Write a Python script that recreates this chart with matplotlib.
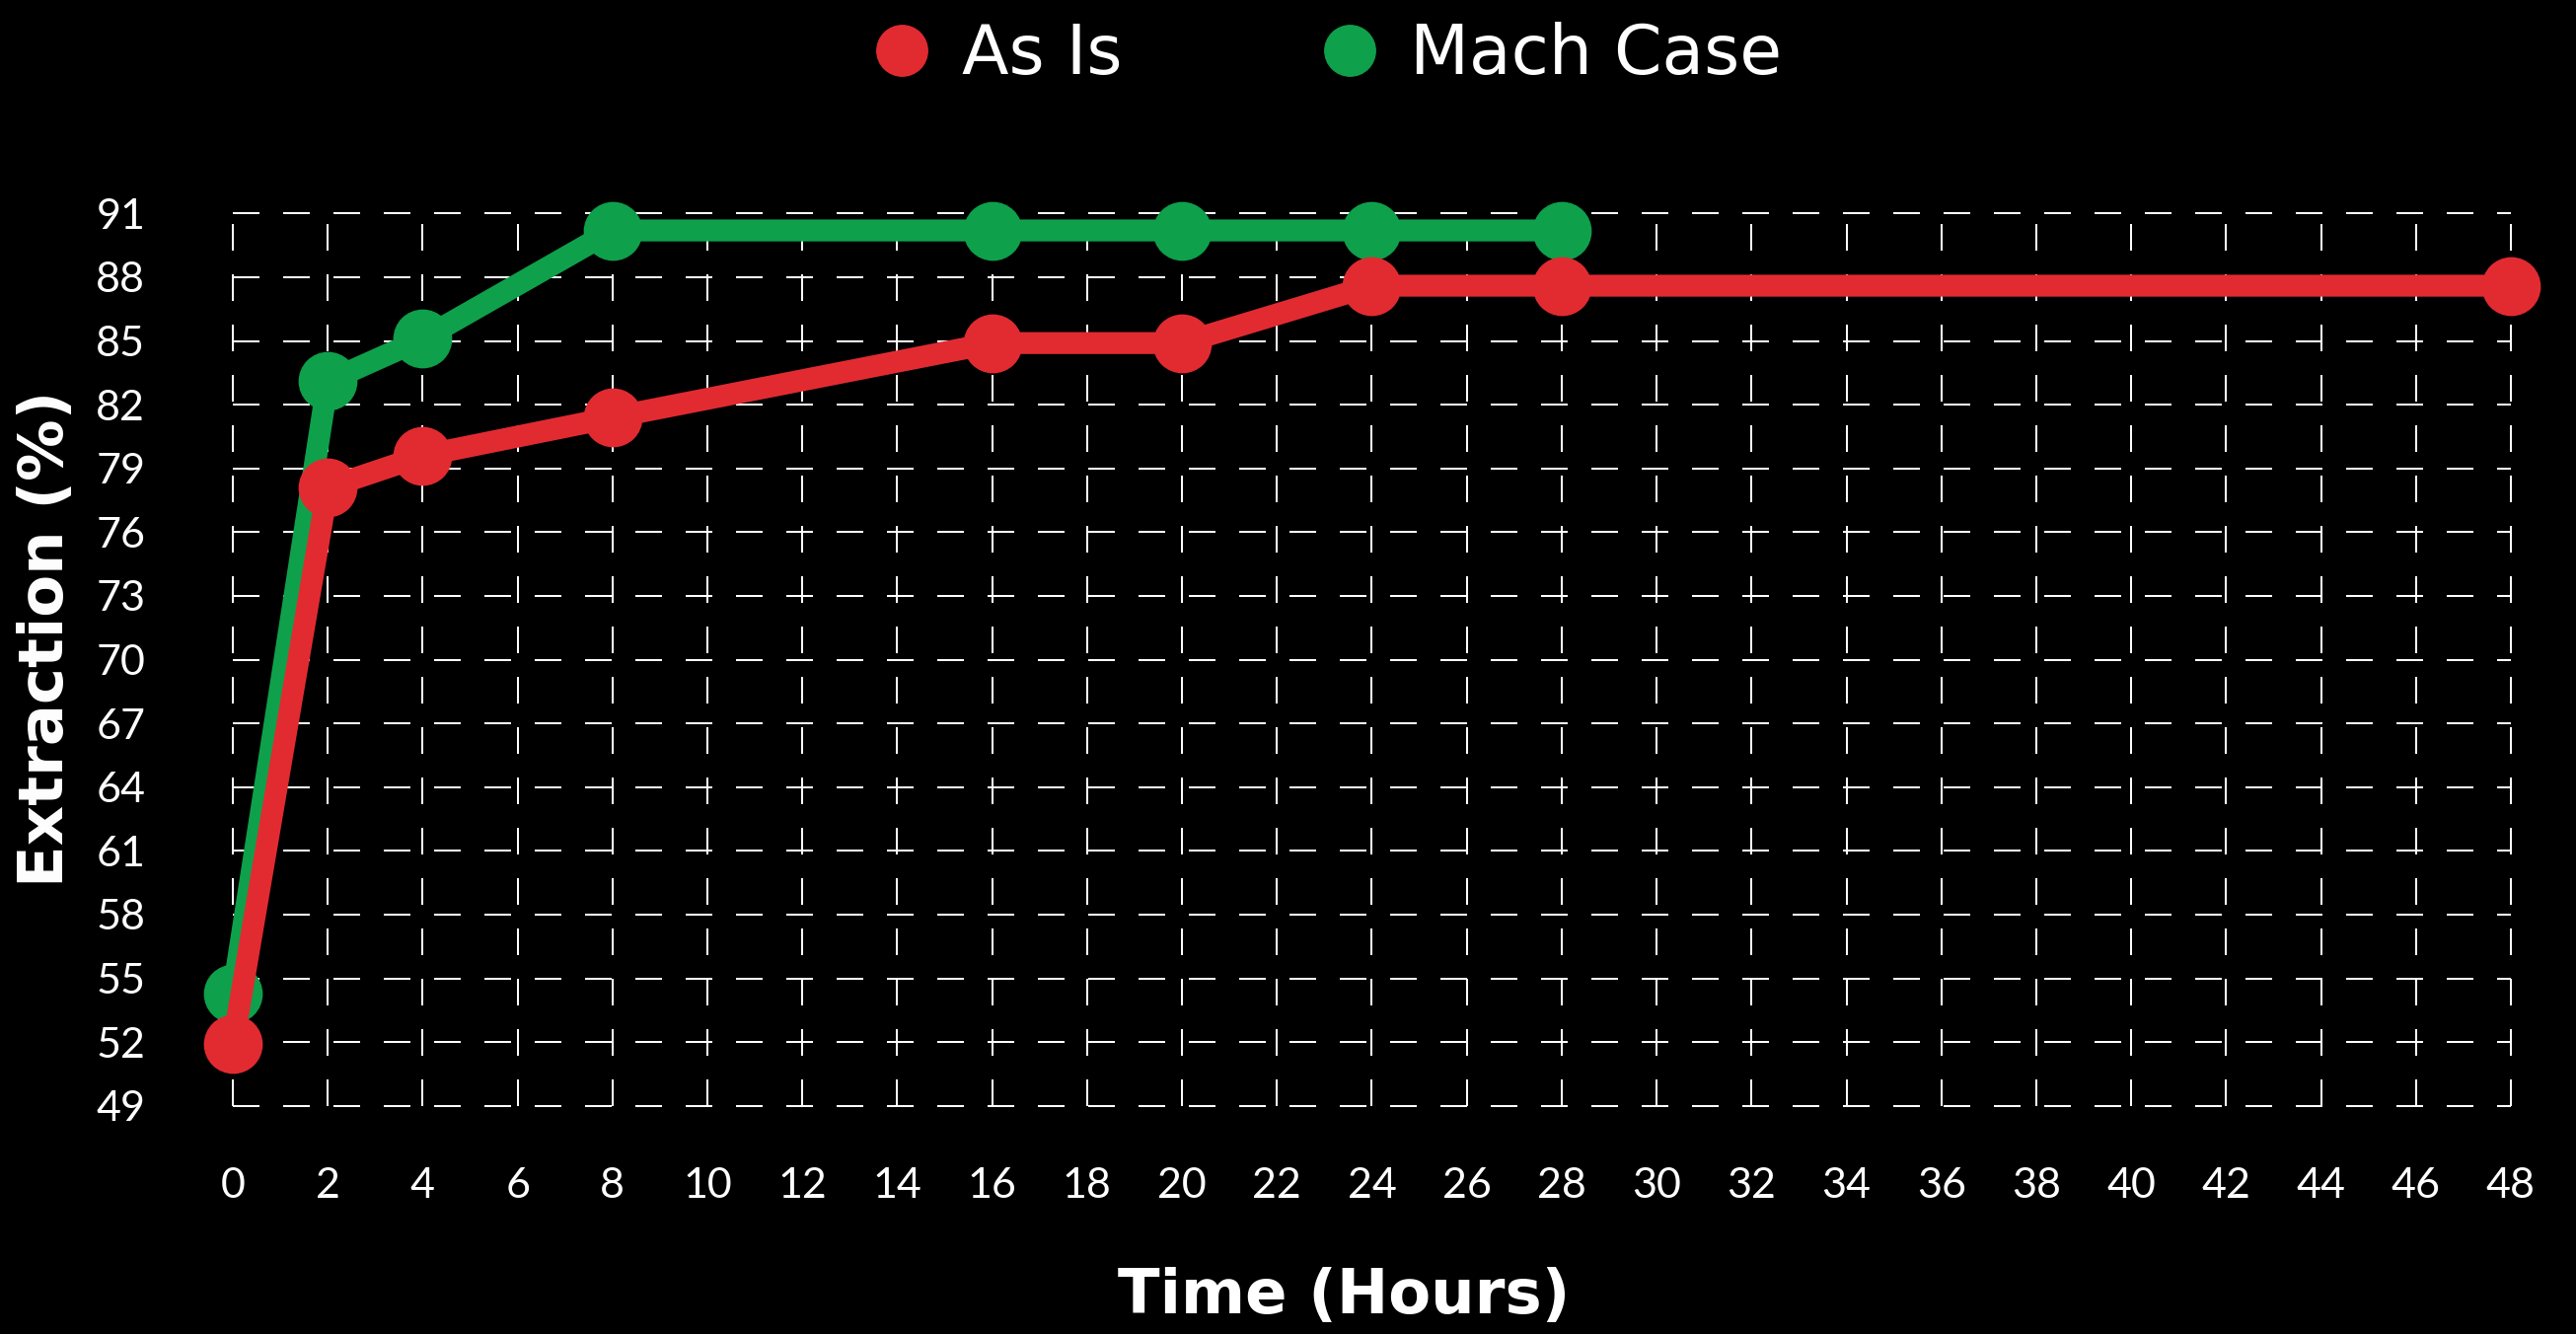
import numpy as np
import matplotlib.pyplot as plt
from matplotlib.lines import Line2D

hours_as_is = [0, 2, 4, 8, 16, 20, 24, 28, 48]
extraction_as_is = [51.9, 78.1, 79.6, 81.4, 84.9, 84.9, 87.6, 87.6, 87.6]

hours_mach = [0, 2, 4, 8, 16, 20, 24, 28]
extraction_mach = [54.3, 83.1, 85.1, 90.2, 90.2, 90.2, 90.2, 90.2]

x_ticks = list(range(0, 50, 2))
y_ticks = list(range(49, 92, 3))

red = '#E22B31'
green = '#0FA04B'

plt.rcParams['font.family'] = ['Lato', 'DejaVu Sans']

fig = plt.figure(figsize=(26.11, 13.52), dpi=100, facecolor='black')
ax = fig.add_axes([0.0904, 0.171, 0.8843, 0.669])
ax.set_facecolor('black')

ax.plot(hours_mach, extraction_mach, color=green, lw=16, marker='o', ms=42,
        solid_capstyle='round', zorder=3, clip_on=False)
ax.plot(hours_as_is, extraction_as_is, color=red, lw=16, marker='o', ms=42,
        solid_capstyle='round', zorder=4, clip_on=False)

ax.set_xlim(0, 48)
ax.set_ylim(49, 91)
ax.set_xticks(x_ticks)
ax.set_yticks(y_ticks)
for s in ax.spines.values():
    s.set_visible(False)
ax.tick_params(length=0, colors='white', labelsize=31)
ax.tick_params(axis='x', pad=45)
ax.tick_params(axis='y', pad=64)

ax.grid(True, color='white', lw=1.44, linestyle=(0, (13.5, 12)), zorder=1)
ax.set_axisbelow(True)
for gl in ax.get_xgridlines() + ax.get_ygridlines():
    gl.set_clip_on(False)

fig.text(0.5216, 0.028, 'Time (Hours)', color='white', fontsize=45,
         fontweight='bold', family='DejaVu Sans', ha='center', va='center')
fig.text(0.018, 0.521, 'Extraction (%)', color='white', fontsize=45,
         fontweight='bold', family='DejaVu Sans', ha='center', va='center',
         rotation=90)

handles = [Line2D([], [], ls='none', marker='o', ms=37, color=red),
           Line2D([], [], ls='none', marker='o', ms=37, color=green)]
fig.legend(handles, ['As Is', 'Mach Case'], loc='center',
           bbox_to_anchor=(0.516, 0.959), ncol=2, frameon=False,
           prop={'family': 'DejaVu Sans', 'size': 50}, labelcolor='white',
           handlelength=0.75, handletextpad=0.5, columnspacing=2.95)

plt.savefig('out.png', dpi=100, facecolor='black')
